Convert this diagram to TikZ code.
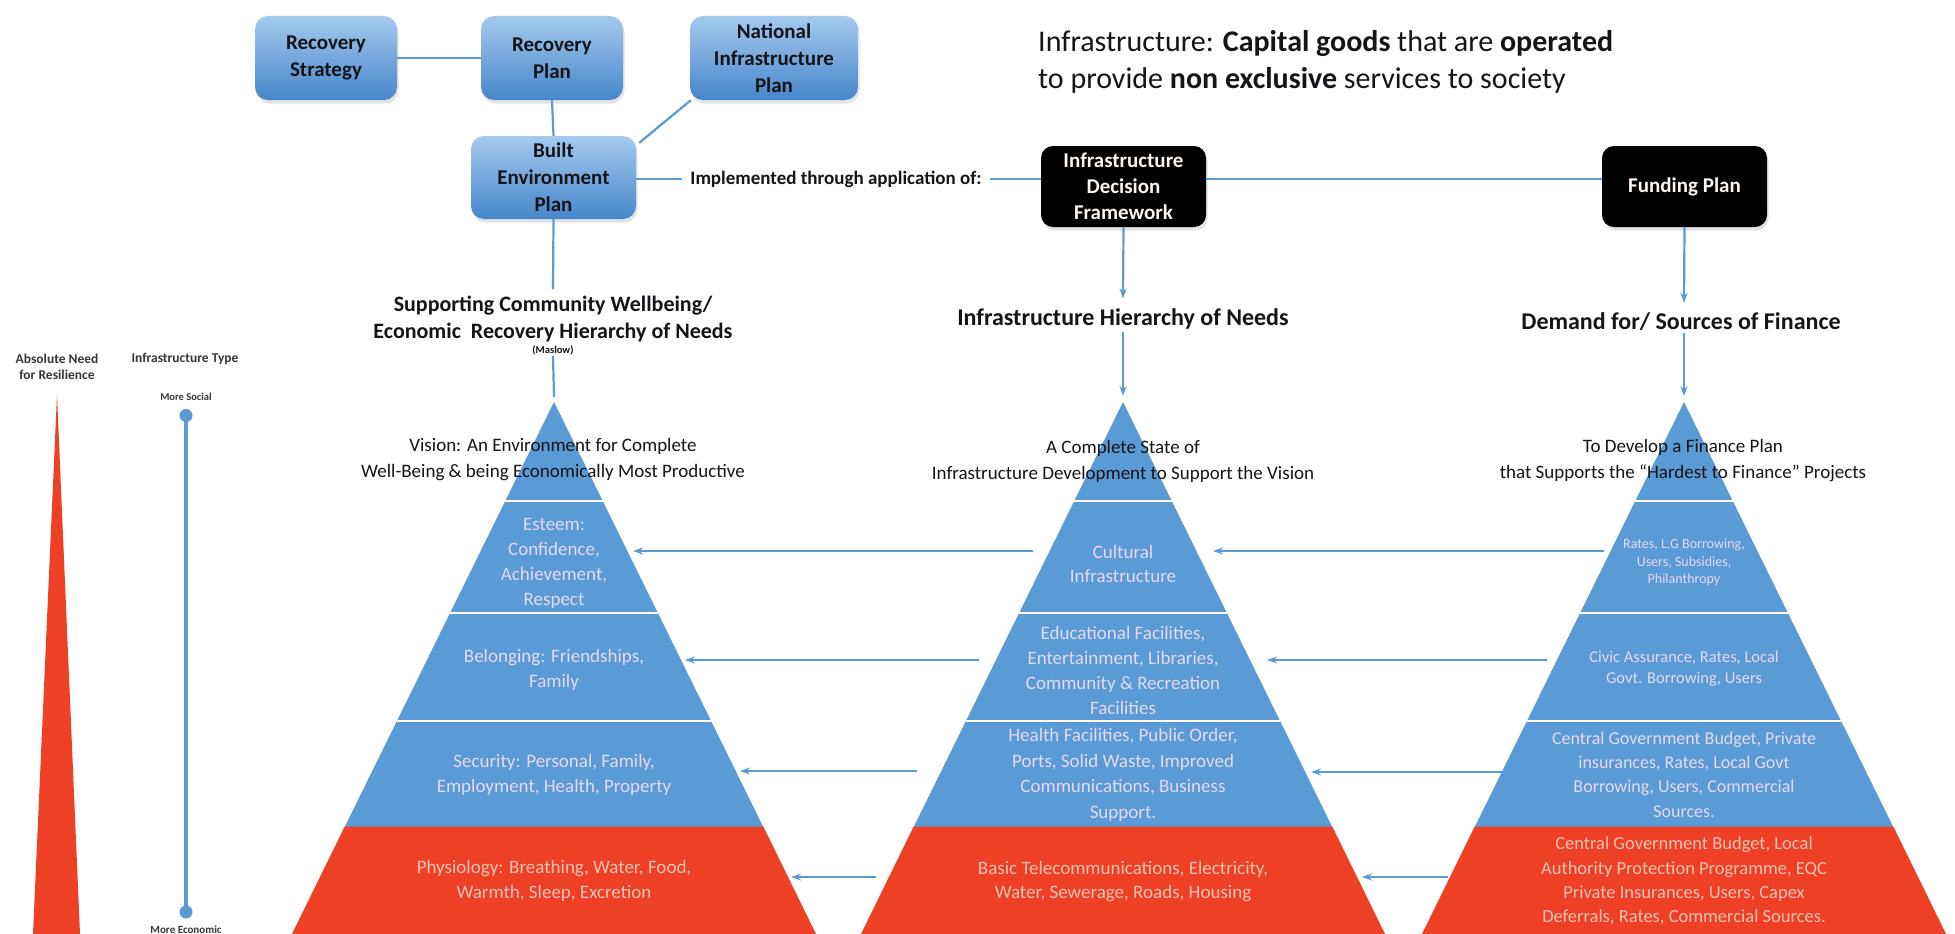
\documentclass[tikz,border=0pt]{standalone}
\usepackage{fontspec}
\setmainfont{Carlito}
\usetikzlibrary{shadows,arrows.meta}
\definecolor{pblue}{RGB}{91,155,213}
\definecolor{pred}{RGB}{237,64,36}
\definecolor{btop}{RGB}{165,202,238}
\definecolor{bbot}{RGB}{70,134,202}
\definecolor{lnblue}{RGB}{91,155,213}
\definecolor{ptext}{RGB}{228,218,242}
\definecolor{rtext}{RGB}{248,192,182}
\definecolor{ink}{RGB}{20,20,25}
\tikzset{
  bluebox/.style={rounded corners=13pt, top color=btop, bottom color=bbot, draw=none,
    drop shadow={opacity=0.22,shadow xshift=1.5pt,shadow yshift=-3.5pt},
    minimum width=142pt, minimum height=84pt, align=center,
    font=\fontsize{21}{27}\selectfont\bfseries, text=ink, inner sep=0pt},
  blackbox/.style={rounded corners=12pt, fill=black, draw=none,
    drop shadow={opacity=0.22,shadow xshift=1.5pt,shadow yshift=-3.5pt},
    minimum width=165pt, minimum height=81pt, align=center,
    font=\fontsize{21}{26}\selectfont\bfseries, text=white!94!orange, inner sep=0pt},
  conn/.style={draw=lnblue, line width=2.2pt},
  arr/.style={conn, -{Stealth[length=10pt,width=7pt]}},
  ptxt/.style={align=center, text=ptext, font=\fontsize{19}{25}\selectfont, inner sep=0pt},
  rtxt/.style={ptxt, text=rtext},
  vis/.style={align=center, font=\fontsize{19}{26}\selectfont, text=ink, inner sep=0pt},
  ttl/.style={align=center, font=\fontsize{24}{27}\selectfont\bfseries, text=ink, fill=white, inner sep=2pt},
  leg/.style={align=center, font=\fontsize{13.5}{16}\selectfont\bfseries, text=ink!85, inner sep=0pt},
  sepline/.style={white, line width=2pt},
}
\begin{document}
\begin{tikzpicture}[x=1pt,y=-1pt]
\useasboundingbox[fill=white] (0,0) rectangle (1955,934);

% ---------- pyramids ----------
\foreach \cx in {554,1123,1684} {
  \fill[pblue] (\cx,402) -- (\cx+209.3,827) -- (\cx-209.3,827) -- cycle;
  \fill[pred] (\cx-209.3,826.5) -- (\cx+209.3,826.5) -- (\cx+262,934) -- (\cx-262,934) -- cycle;
  \draw[sepline] (\cx-48.8,501) -- (\cx+48.8,501);
  \draw[sepline] (\cx-103.9,613) -- (\cx+103.9,613);
  \draw[sepline] (\cx-157.1,721) -- (\cx+157.1,721);
}
\coordinate (lapex) at (554,402);
\coordinate (mapex) at (1123,402);
\coordinate (rapex) at (1684,402);

% ---------- top boxes ----------
\node[bluebox] (rs) at (326,58) {Recovery\\Strategy};
\node[bluebox] (rp) at (552,58) {Recovery\\Plan};
\node[bluebox, minimum width=168pt] (nip) at (774,58) {National\\Infrastructure\\Plan};
\node[bluebox, minimum width=165pt, minimum height=83pt] (bep) at (553.5,177.5) {Built\\Environment\\Plan};
\node[blackbox] (idf) at (1123.5,186.5) {Infrastructure\\Decision\\Framework};
\node[blackbox] (fp) at (1684.5,186.5) {Funding Plan};

\node[font=\fontsize{19}{22}\selectfont\bfseries, text=ink, inner xsep=8pt, inner ysep=2pt] (impl) at (836,179) {Implemented through application of:};

\node[anchor=west, align=left, inner sep=0pt, text=ink, font=\fontsize{30}{37}\selectfont] (def) at (1038,61.5)
  {Infrastructure: \textbf{Capital goods} that are \textbf{operated}\\to provide \textbf{non exclusive} services to society};

% connectors between top boxes
\draw[conn] (rs.east) -- (rp.west);
\draw[conn] (rp.south) -- (bep.north);
\draw[conn] ([xshift=1pt]nip.south west) -- ([xshift=3pt,yshift=-7pt]bep.north east);
\draw[conn] (bep.east |- impl.west) -- (impl.west);
\draw[conn] (impl.east) -- (impl.east -| idf.west);
\draw[conn] (idf.east |- impl.east) -- (fp.west |- impl.east);

% ---------- titles ----------
\node[ttl, font=\fontsize{22}{27}\selectfont\bfseries] (ltitle) at (553,318.5)
  {Supporting Community Wellbeing/\\Economic\ \ Recovery Hierarchy of Needs};
\node[fill=white, inner sep=1pt, text=ink, font=\fontsize{10.5}{12}\selectfont\bfseries] (maslow) at (553,350) {(Maslow)};
\node[ttl] (mtitle) at (1123,319) {Infrastructure Hierarchy of Needs};
\node[ttl] (rtitle) at (1681,322) {Demand for/ Sources of Finance};

\draw[conn] (bep.south) -- ([yshift=4pt]ltitle.north);
\draw[conn] (maslow.south) -- ([yshift=5pt]lapex);
\draw[arr] (idf.south) -- ([yshift=8pt]mtitle.north);
\draw[arr] (mtitle.south) -- ([yshift=6pt]mapex);
\draw[arr] (fp.south) -- ([yshift=8pt,xshift=3pt]rtitle.north);
\draw[arr] ([xshift=3pt]rtitle.south) -- ([yshift=6pt]rapex);

% ---------- pyramid texts: left ----------
\node[vis] (lvis) at (553,460) {Vision: An Environment for Complete\\Well-Being \& being Economically Most Productive};
\node[ptxt] (lest) at (554,563) {Esteem:\\Confidence,\\Achievement,\\Respect};
\node[ptxt] (lbel) at (554,669.5) {Belonging: Friendships,\\Family};
\node[ptxt] (lsec) at (554,774.5) {Security: Personal, Family,\\Employment, Health, Property};
\node[rtxt] (lphy) at (554,880.5) {Physiology: Breathing, Water, Food,\\Warmth, Sleep, Excretion};

% ---------- pyramid texts: middle ----------
\node[vis] (mvis) at (1123,461.5) {A Complete State of\\Infrastructure Development to Support the Vision};
\node[ptxt, font=\fontsize{19}{24}\selectfont] (mcul) at (1123,564) {Cultural\\Infrastructure};
\node[ptxt] (medu) at (1123,670) {Educational Facilities,\\Entertainment, Libraries,\\Community \& Recreation\\Facilities};
\node[ptxt, font=\fontsize{19}{25.5}\selectfont] (mhea) at (1123,775) {Health Facilities, Public Order,\\Ports, Solid Waste, Improved\\Communications, Business\\Support.};
\node[rtxt, font=\fontsize{19}{23.5}\selectfont] (mbas) at (1123,881.5) {Basic Telecommunications, Electricity,\\Water, Sewerage, Roads, Housing};

% ---------- pyramid texts: right ----------
\node[vis] (rvis) at (1683,460.5) {To Develop a Finance Plan\\that Supports the “Hardest to Finance” Projects};
\node[ptxt, font=\fontsize{14}{17.5}\selectfont] (rrat) at (1684,562.5) {Rates, L.G Borrowing,\\Users, Subsidies,\\Philanthropy};
\node[ptxt, font=\fontsize{16.5}{21}\selectfont] (rciv) at (1684,668.5) {Civic Assurance, Rates, Local\\Govt. Borrowing, Users};
\node[ptxt, font=\fontsize{18}{24.3}\selectfont] (rcen) at (1684,774.5) {Central Government Budget, Private\\insurances, Rates, Local Govt\\Borrowing, Users, Commercial\\Sources.};
\node[rtxt, font=\fontsize{18.5}{24.3}\selectfont] (rred) at (1684,881) {Central Government Budget, Local\\Authority Protection Programme, EQC\\Private Insurances, Users, Capex\\Deferrals, Rates, Commercial Sources.};

% ---------- horizontal arrows ----------
\coordinate (m1) at (1033,551); \coordinate (l1) at (633,551);
\coordinate (m2) at (979,660);  \coordinate (l2) at (685,660);
\coordinate (m3) at (917,771);  \coordinate (l3) at (740,771);
\coordinate (m4) at (876,877);  \coordinate (l4) at (791,877);
\coordinate (r1) at (1604,551); \coordinate (n1) at (1213,551);
\coordinate (r2) at (1547,660); \coordinate (n2) at (1267,660);
\coordinate (r3) at (1503,772); \coordinate (n3) at (1311,772);
\coordinate (r4) at (1448,877); \coordinate (n4) at (1362,877);
\foreach \a/\b in {m1/l1,m2/l2,m3/l3,m4/l4,r1/n1,r2/n2,r3/n3,r4/n4}
  \draw[arr] (\a) -- (\b);

% ---------- legend ----------
\coordinate (rtop) at (57,395);
\coordinate (rbl) at (33,934);
\coordinate (rbr) at (80,934);
\fill[pred] (rtop) -- (rbr) -- (rbl) -- cycle;
\coordinate (soc) at (186,415.5);
\coordinate (eco) at (186,912);
\draw[lnblue, line width=4.5pt] (soc) -- (eco);
\fill[lnblue] (soc) circle (6.5);
\fill[lnblue] (eco) circle (6.5);
\node[leg] (absn) at (57,367) {Absolute Need\\for Resilience};
\node[leg] (itype) at (185,359) {Infrastructure Type};
\node[leg, font=\fontsize{10.5}{12}\selectfont\bfseries] (msoc) at (186,397) {More Social};
\node[leg, font=\fontsize{11}{12}\selectfont\bfseries] (meco) at (186,930) {More Economic};
\end{tikzpicture}
\end{document}
